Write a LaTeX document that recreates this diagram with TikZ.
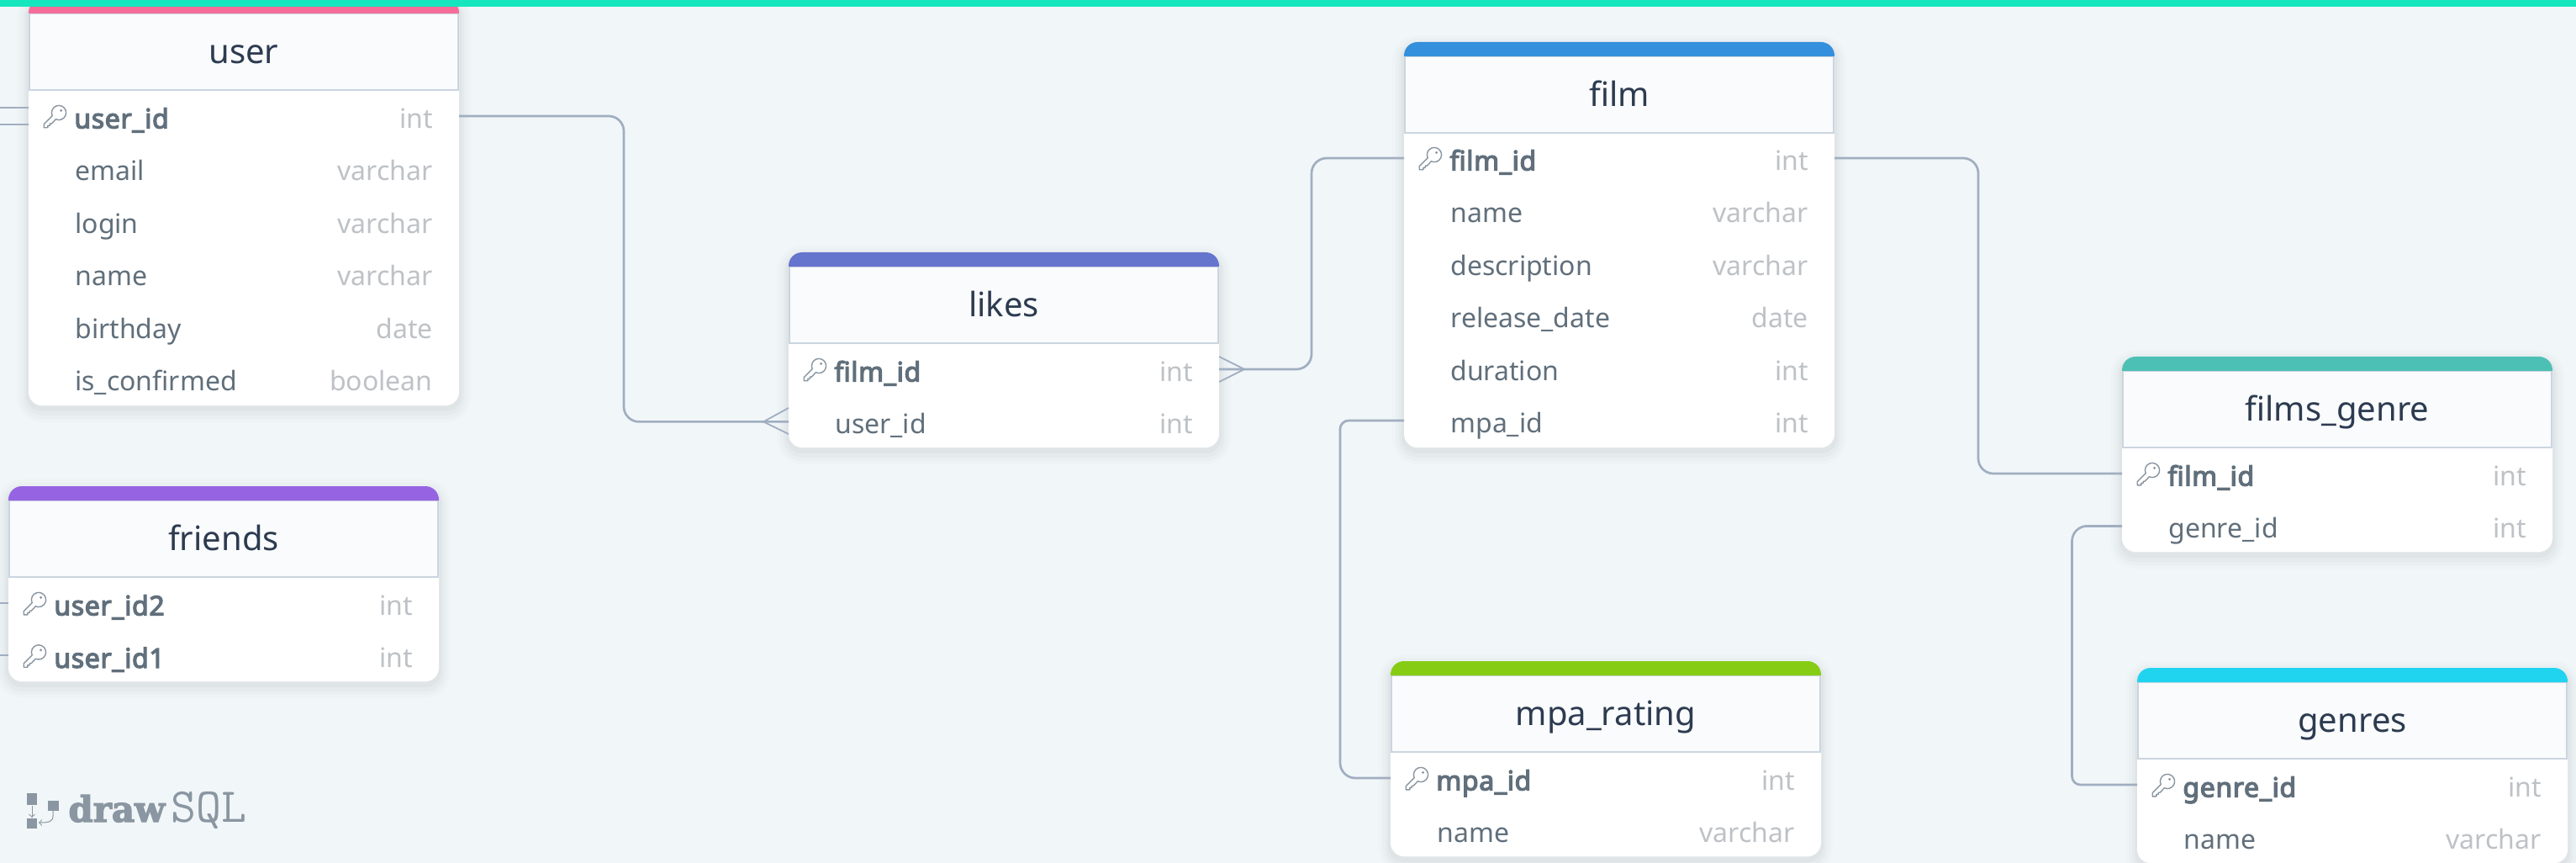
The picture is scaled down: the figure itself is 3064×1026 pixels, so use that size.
\documentclass[tikz,border=0pt]{standalone}
\usepackage{fontspec}
\setmainfont{Noto Sans}
\newfontfamily\logofont{DejaVu Serif Bold}[FakeBold=3]
\newfontfamily\keyfont{Noto Sans}[FakeBold=4,LetterSpace=2]
\usetikzlibrary{positioning}
\definecolor{pagebg}{HTML}{F1F6F9}
\definecolor{topteal}{HTML}{15E6BE}
\definecolor{linegray}{HTML}{A0AEC0}
\definecolor{headbg}{HTML}{F9FBFD}
\definecolor{headline}{HTML}{CBD5E0}
\definecolor{titleink}{HTML}{2D3B50}
\definecolor{rowink}{HTML}{606F7B}
\definecolor{typeink}{HTML}{BEC2C6}
\definecolor{logoink}{HTML}{8A96A1}
\definecolor{usercol}{HTML}{F76D9A}
\definecolor{friendscol}{HTML}{9664E2}
\definecolor{likescol}{HTML}{6574CD}
\definecolor{filmcol}{HTML}{3490DC}
\definecolor{fgenrecol}{HTML}{4DC0B5}
\definecolor{genrescol}{HTML}{20D4EF}
\definecolor{mpacol}{HTML}{86CC14}
\tikzset{
    softshadow/.style={
        preaction={draw=black,line width=14pt,opacity=.010,transform canvas={yshift=-3pt}},
        preaction={draw=black,line width=10pt,opacity=.014,transform canvas={yshift=-3pt}},
        preaction={draw=black,line width=6pt,opacity=.018,transform canvas={yshift=-3pt}},
        preaction={draw=black,line width=3pt,opacity=.022,transform canvas={yshift=-2pt}}},
    card/.style={softshadow,fill=white,rounded corners=8pt,minimum width=256pt,inner sep=0pt,outer sep=0pt,anchor=north west},
    head/.style={draw=headline,line width=1pt,fill=headbg,minimum width=255pt,minimum height=45.5pt,inner sep=0pt,outer sep=0pt,
        text=titleink,font=\fontsize{20}{24}\selectfont,text height=15pt,text depth=1pt},
    colname/.style={anchor=west,inner sep=0pt,text=rowink,font=\fontsize{16}{20}\selectfont,text height=14.5pt,text depth=0pt},
    keyname/.style={colname,xshift=-.5pt,font=\fontsize{16}{20}\keyfont},
    coltype/.style={anchor=east,xshift=1pt,inner sep=0pt,text=typeink,font=\fontsize{16}{20}\selectfont,text height=14.5pt,text depth=0pt},
    link/.style={draw=linegray,line width=1.35pt,rounded corners=9pt},
    crow/.style={draw=linegray,line width=.9pt},
    keyicon/.pic={
        \begin{scope}[x=1pt,y=1pt,draw=logoink,line width=.7pt,line join=round]
            \draw (0.18,-1.9) arc (245:565:4.3pt) -- (-6.9,-4.8) -- (-6.9,-6.9) -- (-4.6,-6.9) -- (-4.6,-5.7) -- (-3.4,-5.7) -- (-3.4,-4.6) -- (-2.4,-4.6) -- cycle;
            \fill[logoink] (3.3,3.3) circle (.8pt);
        \end{scope}
    }
}
\begin{document}
\begin{tikzpicture}[x=.5pt,y=-.5pt]
                    \useasboundingbox (0,0) rectangle (3064,1026);
                    \fill[pagebg] (0,0) rectangle (3064,1026);

                    % user
                    \node[card,minimum height=241.5pt] (user) at (34,-1) {};
                    \node[head,below=8.5pt of user.north] (userhead) {user};
                    \fill[usercol] (user.west |- userhead.north) [rounded corners=8pt] -- (user.north west) -- (user.north east) [sharp corners] -- (user.east |- userhead.north) -- cycle;
                    \pic at (66,138) {keyicon};
                    \node[keyname] (userid) at (89,138) {user\_id};
                    \node[coltype] (useridtype) at (513,138) {int};
                    \node[colname] (useremail) at (89,200.4) {email};
                    \node[coltype] (useremailtype) at (513,200.4) {varchar};
                    \node[colname] (userlogin) at (89,262.8) {login};
                    \node[coltype] (userlogintype) at (513,262.8) {varchar};
                    \node[colname] (username) at (89,325.2) {name};
                    \node[coltype] (usernametype) at (513,325.2) {varchar};
                    \node[colname] (userbirth) at (89,387.6) {birthday};
                    \node[coltype] (userbirthtype) at (513,387.6) {date};
                    \node[colname] (userconf) at (89,450) {is\_confirmed};
                    \node[coltype] (userconftype) at (513,450) {boolean};

                    % friends
                    \node[card,minimum height=116pt] (friends) at (10,578) {};
                    \node[head,below=8.5pt of friends.north] (friendshead) {friends};
                    \fill[friendscol] (friends.west |- friendshead.north) [rounded corners=8pt] -- (friends.north west) -- (friends.north east) [sharp corners] -- (friends.east |- friendshead.north) -- cycle;
                    \pic at (42,717) {keyicon};
                    \node[keyname] (friendstwo) at (65,717) {user\_id2};
                    \node[coltype] (friendstwotype) at (489,717) {int};
                    \pic at (42,779.4) {keyicon};
                    \node[keyname] (friendsone) at (65,779.4) {user\_id1};
                    \node[coltype] (friendsonetype) at (489,779.4) {int};

                    % likes
                    \node[card,minimum height=116pt] (likes) at (938,300) {};
                    \node[head,below=8.5pt of likes.north] (likeshead) {likes};
                    \fill[likescol] (likes.west |- likeshead.north) [rounded corners=8pt] -- (likes.north west) -- (likes.north east) [sharp corners] -- (likes.east |- likeshead.north) -- cycle;
                    \pic at (970,439) {keyicon};
                    \node[keyname] (likesfilm) at (993,439) {film\_id};
                    \node[coltype] (likesfilmtype) at (1417,439) {int};
                    \node[colname] (likesuser) at (993,501.4) {user\_id};
                    \node[coltype] (likesusertype) at (1417,501.4) {int};

                    % film
                    \node[card,minimum height=241pt] (film) at (1670,50) {};
                    \node[head,below=8.5pt of film.north] (filmhead) {film};
                    \fill[filmcol] (film.west |- filmhead.north) [rounded corners=8pt] -- (film.north west) -- (film.north east) [sharp corners] -- (film.east |- filmhead.north) -- cycle;
                    \pic at (1702,188) {keyicon};
                    \node[keyname] (filmid) at (1725,188) {film\_id};
                    \node[coltype] (filmidtype) at (2149,188) {int};
                    \node[colname] (filmname) at (1725,250.4) {name};
                    \node[coltype] (filmnametype) at (2149,250.4) {varchar};
                    \node[colname] (filmdesc) at (1725,312.8) {description};
                    \node[coltype] (filmdesctype) at (2149,312.8) {varchar};
                    \node[colname] (filmdate) at (1725,375.2) {release\_date};
                    \node[coltype] (filmdatetype) at (2149,375.2) {date};
                    \node[colname] (filmdur) at (1725,437.6) {duration};
                    \node[coltype] (filmdurtype) at (2149,437.6) {int};
                    \node[colname] (filmmpa) at (1725,500) {mpa\_id};
                    \node[coltype] (filmmpatype) at (2149,500) {int};

                    % films_genre
                    \node[card,minimum height=116pt] (fgenre) at (2524,424) {};
                    \node[head,below=8.5pt of fgenre.north] (fgenrehead) {films\_genre};
                    \fill[fgenrecol] (fgenre.west |- fgenrehead.north) [rounded corners=8pt] -- (fgenre.north west) -- (fgenre.north east) [sharp corners] -- (fgenre.east |- fgenrehead.north) -- cycle;
                    \pic at (2556,563) {keyicon};
                    \node[keyname] (fgenrefilm) at (2579,563) {film\_id};
                    \node[coltype] (fgenrefilmtype) at (3003,563) {int};
                    \node[colname] (fgenregenre) at (2579,625.4) {genre\_id};
                    \node[coltype] (fgenregenretype) at (3003,625.4) {int};

                    % genres
                    \node[card,minimum height=116pt] (genres) at (2542,794) {};
                    \node[head,below=8.5pt of genres.north] (genreshead) {genres};
                    \fill[genrescol] (genres.west |- genreshead.north) [rounded corners=8pt] -- (genres.north west) -- (genres.north east) [sharp corners] -- (genres.east |- genreshead.north) -- cycle;
                    \pic at (2574,933) {keyicon};
                    \node[keyname] (genresid) at (2597,933) {genre\_id};
                    \node[coltype] (genresidtype) at (3021,933) {int};
                    \node[colname] (genresname) at (2597,995.4) {name};
                    \node[coltype] (genresnametype) at (3021,995.4) {varchar};

                    % mpa_rating
                    \node[card,minimum height=116pt] (mpa) at (1654,786) {};
                    \node[head,below=8.5pt of mpa.north] (mpahead) {mpa\_rating};
                    \fill[mpacol] (mpa.west |- mpahead.north) [rounded corners=8pt] -- (mpa.north west) -- (mpa.north east) [sharp corners] -- (mpa.east |- mpahead.north) -- cycle;
                    \pic at (1686,925) {keyicon};
                    \node[keyname] (mpaid) at (1709,925) {mpa\_id};
                    \node[coltype] (mpaidtype) at (2133,925) {int};
                    \node[colname] (mpaname) at (1709,987.4) {name};
                    \node[coltype] (mpanametype) at (2133,987.4) {varchar};

                    % connectors
                    \coordinate (bendlikes) at (742,300);
                    \coordinate (bendfilm) at (1560,300);
                    \coordinate (bendfgenre) at (2353,300);
                    \coordinate (bendmpa) at (1594,700);
                    \coordinate (bendgenre) at (2464.5,800);
                    \draw[link] (user.east |- userid) -| (bendlikes) |- (likes.west |- likesuser);
                    \draw[link] (likes.east |- likesfilm) -| (bendfilm) |- (film.west |- filmid);
                    \draw[link] (film.east |- filmid) -| (bendfgenre) |- (fgenre.west |- fgenrefilm);
                    \draw[link,rounded corners=5pt] (film.west |- filmmpa) -| (bendmpa) [rounded corners=9pt] |- (mpa.west |- mpaid);
                    \draw[link] (fgenre.west |- fgenregenre) -| (bendgenre) [rounded corners=5pt] |- (genres.west |- genresid);

                    % crow feet
                    \coordinate (liketipl) at (908,501.4);
                    \coordinate (liketipr) at (1480,439);
                    \draw[crow] (likes.west |- 0,485) -- (liketipl) -- (likes.west |- 0,516);
                    \draw[crow] (likes.east |- 0,424) -- (liketipr) -- (likes.east |- 0,454);

                    % lines running off the left edge
                    \coordinate (offone) at (0,128);
                    \coordinate (offtwo) at (0,148);
                    \coordinate (offthree) at (0,717);
                    \coordinate (offfour) at (0,779);
                    \draw[link] (user.west |- offone) -- (offone);
                    \draw[link] (user.west |- offtwo) -- (offtwo);
                    \draw[link] (friends.west |- offthree) -- (offthree);
                    \draw[link] (friends.west |- offfour) -- (offfour);

                    % top bar
                    \fill[topteal] (0,0) rectangle (3064,8);

                    % logo
                    \fill[logoink] (32,943) rectangle (44,957);
                    \fill[logoink] (32,973) rectangle (44,985);
                    \fill[logoink] (57,952) rectangle (70,964);
                    \draw[logoink,line width=.5pt,->] (38,958) -- (38,972);
                    \draw[logoink,line width=.5pt,->] (63,964) -- (63,970) .. controls (63,977) and (58,978) .. (46,978);
                    \node[anchor=base west,inner sep=0pt,text=logoink,font=\fontsize{21}{24}\logofont] (logodraw) at (81,977) {draw};
                    \node[anchor=base west,inner sep=0pt,text=logoink,font=\fontsize{29}{24}\ttfamily] (logosql) at (203,977) {SQL};
                \end{tikzpicture}
\end{document}
